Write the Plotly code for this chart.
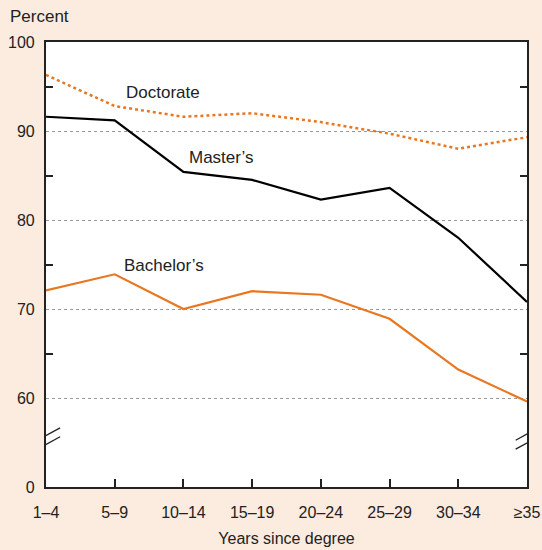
import plotly.graph_objects as go

categories = ["1–4", "5–9", "10–14", "15–19", "20–24", "25–29", "30–34", "≥35"]
doctorate = [96.3, 92.8, 91.6, 92.0, 91.0, 89.7, 88.0, 89.3]
masters = [91.6, 91.2, 85.4, 84.5, 82.3, 83.6, 78.0, 70.8]
bachelors = [72.1, 73.9, 70.0, 72.0, 71.6, 68.9, 63.2, 59.6]

y_ticks = [50, 60, 70, 80, 90, 100]
y_labels = ["0", "60", "70", "80", "90", "100"]

orange = "#E87722"
bg = "#FCEBDF"
axis_col = "#222"
xs = list(range(len(categories)))

fig = go.Figure()
fig.add_trace(go.Scatter(x=xs, y=doctorate, mode="lines", name="Doctorate",
                         line=dict(color=orange, width=2.5, dash="dot")))
fig.add_trace(go.Scatter(x=xs, y=masters, mode="lines", name="Master's",
                         line=dict(color="black", width=2.2)))
fig.add_trace(go.Scatter(x=xs, y=bachelors, mode="lines", name="Bachelor's",
                         line=dict(color=orange, width=2.2)))

# axis break marks
for xb in (0.04, 7):
    fig.add_shape(type="line", xref="x", yref="y", x0=xb - 0.04, x1=xb - 0.04,
                  y0=54.9, y1=56.1, line=dict(color="white", width=5))
    for yb in (54.95, 55.95):
        fig.add_shape(type="line", xref="x", yref="y", x0=xb - 0.165, x1=xb + 0.165,
                      y0=yb - 0.7, y1=yb + 0.7, line=dict(color=axis_col, width=1.3))

font = "Liberation Sans, Arial, sans-serif"
for txt, x, y in [("Doctorate", 1.70, 94.3), ("Master’s", 2.55, 87.0), ("Bachelor’s", 1.72, 74.9)]:
    fig.add_annotation(x=x, y=y, text=txt, showarrow=False,
                       font=dict(size=17, color="#222", family=font))

fig.add_annotation(xref="paper", yref="paper", x=-0.079, y=1.058, xanchor="left",
                   yanchor="middle", text="Percent", showarrow=False,
                   font=dict(size=17, color="#222", family=font))

fig.update_layout(
    width=542, height=550,
    paper_bgcolor=bg, plot_bgcolor="white",
    margin=dict(l=46, r=15, t=42, b=63, autoexpand=False),
    showlegend=False,
    font=dict(family=font, size=16, color="#222"),
    xaxis=dict(range=[0, 7], tickvals=xs, ticktext=categories, ticks="inside",
               ticklen=8, tickcolor=axis_col, tickwidth=1.5, showline=True,
               linecolor=axis_col, linewidth=2.2, mirror=True, showgrid=False,
               zeroline=False, tickfont=dict(size=16), ticklabelstandoff=10,
               automargin=False,
               title=dict(text="Years since degree", font=dict(size=16), standoff=13)),
    yaxis=dict(range=[50, 100], tickvals=y_ticks, ticktext=y_labels, ticks="",
               showline=True, linecolor=axis_col, linewidth=2.2, mirror="ticks",
               showgrid=True, gridcolor="#999", griddash="dot", gridwidth=1,
               zeroline=False, ticklabelstandoff=6, tickfont=dict(size=16),
               automargin=False,
               minor=dict(tickvals=[95, 85, 75, 65], ticks="inside", ticklen=7,
                          tickcolor=axis_col, tickwidth=1.5, showgrid=False)),
)

fig.write_html("out.html", config={"displayModeBar": False},
               post_script="document.body.style.margin='0';")
